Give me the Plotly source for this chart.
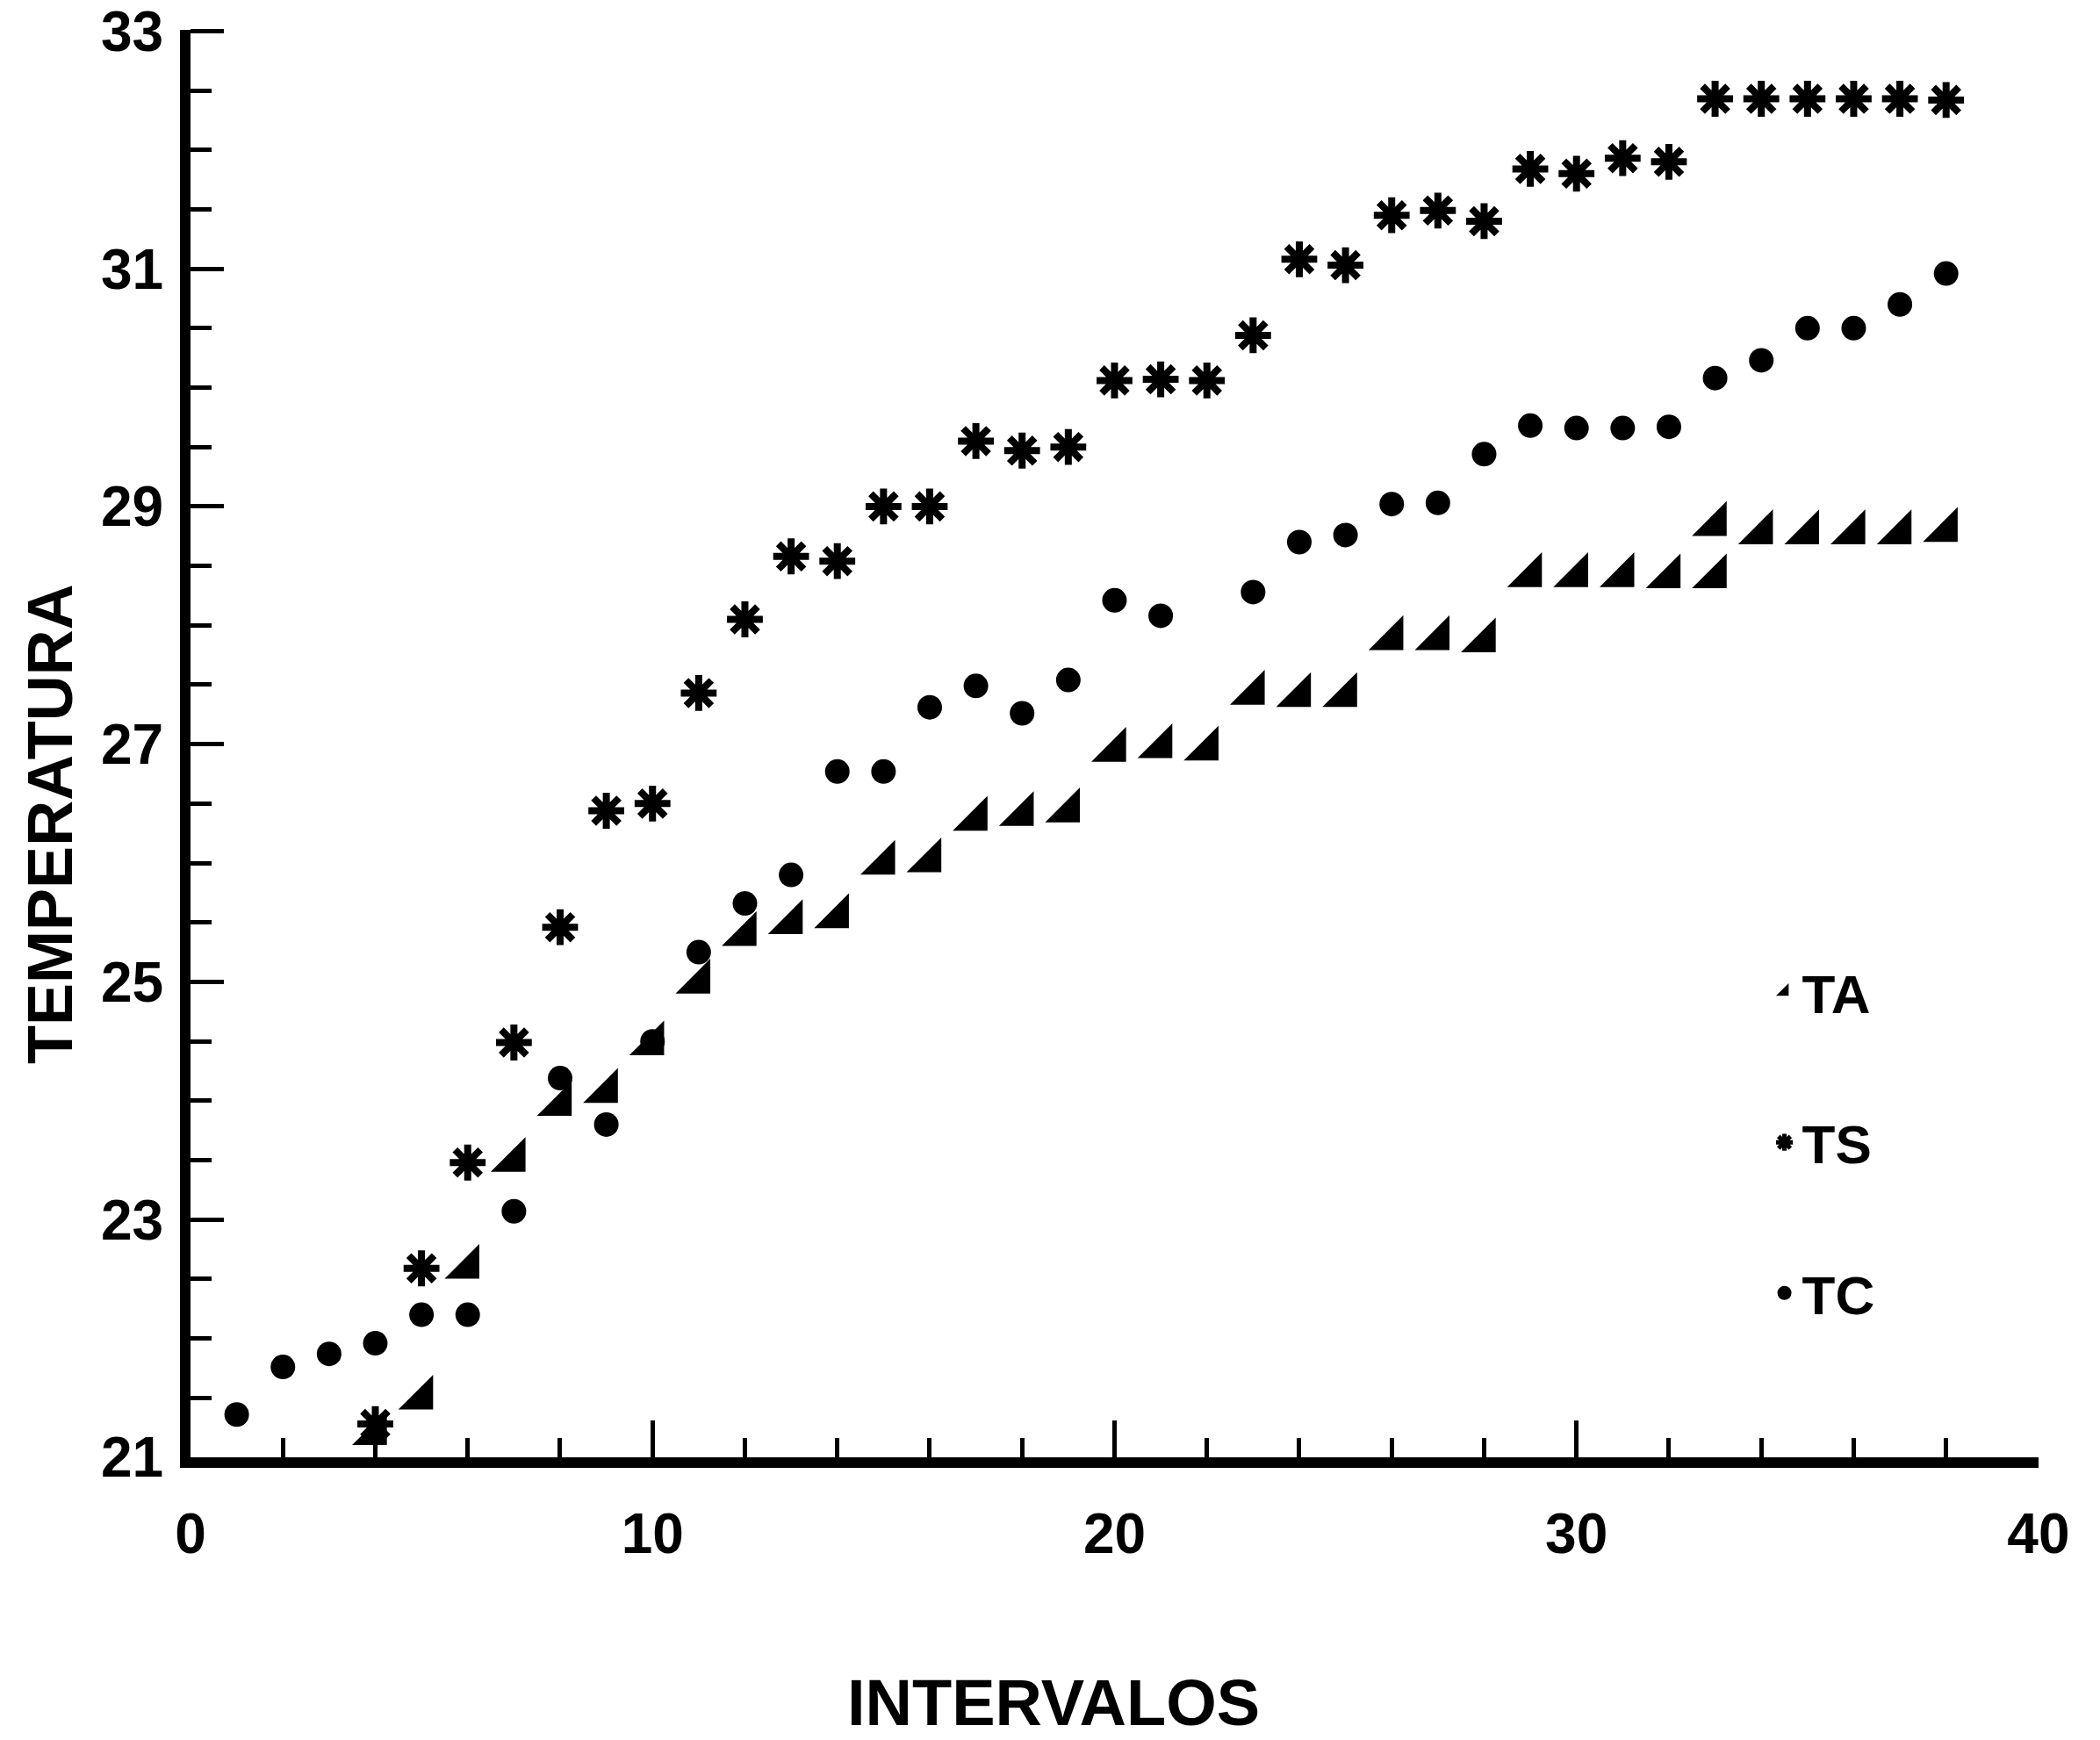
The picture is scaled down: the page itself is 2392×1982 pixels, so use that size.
import plotly.graph_objects as go

# ---- data ----
intervals_ta = list(range(4, 34)) + [33] + list(range(34, 39))
ta = [21.2, 21.5, 22.6, 23.5, 23.97, 24.08, 24.48, 25.0, 25.4, 25.5,
      25.55, 26.0, 26.02, 26.37, 26.41, 26.44, 26.95, 26.98, 26.96, 27.43,
      27.41, 27.41, 27.89, 27.89, 27.87, 28.42, 28.42, 28.42, 28.41, 28.41,
      28.85, 28.78, 28.78, 28.78, 28.78, 28.8]

intervals_ts = list(range(4, 39))
ts = [21.28, 22.59, 23.48, 24.49, 25.46, 26.44, 26.5, 27.43, 28.05, 28.58,
      28.54, 29.0, 29.0, 29.55, 29.47, 29.5, 30.06, 30.07, 30.06, 30.44,
      31.08, 31.03, 31.45, 31.49, 31.4, 31.84, 31.8, 31.93, 31.9, 32.43,
      32.43, 32.43, 32.43, 32.43, 32.42]

intervals_tc = list(range(1, 22)) + list(range(23, 39))
tc = [21.36, 21.76, 21.87, 21.96, 22.2, 22.2, 23.07, 24.19, 23.8, 24.5,
      25.25, 25.66, 25.9, 26.77, 26.77, 27.31, 27.49, 27.26, 27.54, 28.21,
      28.08, 28.28, 28.7, 28.76, 29.02, 29.03, 29.44, 29.68, 29.66, 29.66,
      29.67, 30.08, 30.23, 30.5, 30.5, 30.7, 30.96]

x_tickvals = [0, 10, 20, 30, 40]
y_tickvals = [21, 23, 25, 27, 29, 31, 33]

x_title = "INTERVALOS"
y_title = "TEMPERATURA"

FONT = "Liberation Sans"

fig = go.Figure()
fig.add_trace(go.Scatter(
    x=intervals_ta, y=ta, mode="markers", name="TA", legendgroup="TA",
    marker=dict(symbol="triangle-se", size=44, color="black", line=dict(width=0)),
))
fig.add_trace(go.Scatter(
    x=intervals_ts, y=ts, mode="markers", name="TS", legendgroup="TS",
    marker=dict(symbol="asterisk", size=34, color="black",
                line=dict(width=8, color="black")),
))
fig.add_trace(go.Scatter(
    x=intervals_tc, y=tc, mode="markers", name="TC", legendgroup="TC",
    marker=dict(symbol="circle", size=28, color="black"),
))

fig.update_layout(
    width=2392, height=1982,
    margin=dict(l=217, r=70, t=34, b=322, pad=0),
    paper_bgcolor="white", plot_bgcolor="white",
    font=dict(family=FONT, color="black", size=64, weight="bold"),
    showlegend=True,
    legend=dict(
        x=0.853, y=0.355, xanchor="left", yanchor="top",
        font=dict(family=FONT, size=62, color="black", weight="bold"),
        tracegroupgap=88, bgcolor="rgba(0,0,0,0)", itemsizing="trace",
        traceorder="grouped",
    ),
    xaxis=dict(
        range=[0, 40.001], showgrid=False, zeroline=False, automargin=False,
        showline=True, linewidth=12, linecolor="black",
        tickmode="array", tickvals=x_tickvals,
        ticks="inside", ticklen=42, tickwidth=5, tickcolor="black",
        tickfont=dict(family=FONT, size=64, color="black", weight="bold"),
        ticklabelstandoff=20, ticklabeloverflow="allow",
        minor=dict(ticks="inside", tick0=0, dtick=2, ticklen=22, tickwidth=5,
                   tickcolor="black", showgrid=False),
    ),
    yaxis=dict(
        range=[21, 33.01], showgrid=False, zeroline=False, automargin=False,
        showline=True, linewidth=12, linecolor="black",
        tickmode="array", tickvals=y_tickvals,
        ticks="inside", ticklen=38, tickwidth=5, tickcolor="black",
        tickfont=dict(family=FONT, size=64, color="black", weight="bold"),
        ticklabelstandoff=6, ticklabeloverflow="allow",
        minor=dict(ticks="inside", tick0=21, dtick=0.5, ticklen=24, tickwidth=5,
                   tickcolor="black", showgrid=False),
    ),
    annotations=[
        dict(text=x_title, xref="paper", yref="paper", x=0.467, y=-0.172,
             xanchor="center", yanchor="middle", showarrow=False,
             font=dict(family=FONT, size=74, color="black", weight="bold")),
        dict(text=y_title, xref="paper", yref="paper", x=-0.076, y=0.4435,
             xanchor="center", yanchor="middle", showarrow=False, textangle=-90,
             font=dict(family=FONT, size=72, color="black", weight="bold")),
    ],
)

fig.write_html("out.html")
